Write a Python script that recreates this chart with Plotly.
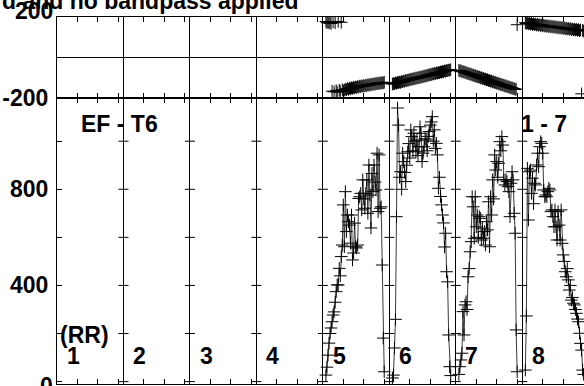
import plotly.graph_objects as go

# ---------------- data ----------------
if_numbers = [1, 2, 3, 4, 5, 6, 7, 8]
if_width = 65                      # 64 channels + 1 gap, in channel units
channels = list(range(3, 61))      # plotted channels in each IF

amp_if5 = [27, 60, 110, 160, 200, 223, 249, 277, 290, 330, 374, 402, 402, 471, 440, 520, 568, 735,
           561, 790, 624, 693, 665, 651, 576, 693, 506, 535, 659, 561, 556, 568, 762, 769, 783, 714,
           839, 760, 721, 783, 839, 700, 901, 776, 639, 866, 790, 901, 830, 797, 950, 707, 943, 721,
           727, 485, 181, 41]
amp_if6 = [15, 27, 140, 259, 686, 1138, 1067, 850, 873, 800, 950, 915, 870, 832, 900, 956, 990, 930,
           1047, 1019, 960, 1033, 1000, 956, 1005, 940, 977, 1060, 1033, 915, 950, 977, 1010, 1005,
           960, 1020, 1040, 1067, 1080, 1102, 1000, 1047, 970, 991, 943, 804, 850, 770, 735, 693,
           660, 560, 617, 457, 415, 194, 62, 25]
amp_if7 = [30, 62, 90, 118, 291, 194, 319, 332, 300, 436, 470, 540, 582, 769, 727, 596, 769, 644,
           693, 600, 686, 679, 589, 638, 596, 624, 568, 665, 631, 748, 561, 769, 693, 839, 760, 943,
           880, 915, 850, 908, 998, 960, 1019, 984, 839, 818, 840, 832, 811, 790, 686, 825, 873, 839,
           700, 617, 215, 41]
amp_if8 = [48, 273, 887, 672, 873, 880, 783, 846, 740, 825, 818, 901, 950, 894, 977, 998, 991, 950,
           797, 769, 776, 769, 790, 804, 797, 707, 714, 686, 644, 714, 644, 589, 707, 651, 589, 714,
           575, 527, 500, 457, 436, 470, 423, 381, 400, 339, 350, 326, 319, 300, 284, 260, 249, 201,
           159, 131, 48, 30]

ph_if5 = [178, 172, 176, 170, 174, 168, -165, 176, -168, 172, -162, -170, 178, -160, -166, 174, -158,
          -163, -160, -155, -158, -152, -156, -150, -153, -148, -151, -146, -149, -144, -147, -142,
          -145, -140, -143, -138, -141, -137, -139, -135, -138, -133, -136, -131, -134, -130, -132,
          -128, -131, -126, -129, -125, -128, -123, -126, -122, -125, -121]
ph_if6 = [-130, -127, -129, -124, -126, -122, -123, -120, -122, -117, -119, -115, -116, -112, -114,
          -110, -111, -107, -108, -105, -106, -102, -104, -100, -101, -98, -99, -95, -97, -93, -94,
          -90, -92, -88, -89, -85, -86, -82, -84, -80, -81, -77, -79, -75, -76, -73, -74, -70, -72,
          -68, -69, -65, -67, -63, -64, -61, -62, -59]
ph_if7 = [-62, -66, -64, -69, -68, -72, -71, -76, -75, -79, -78, -83, -81, -86, -85, -90, -88, -93,
          -92, -96, -95, -100, -98, -103, -102, -106, -105, -110, -108, -113, -112, -116, -115, -120,
          -118, -123, -122, -126, -125, -130, -128, -133, -132, -136, -135, -140, -138, -143, -142,
          -146, -145, -150, -148, -153, -152, -156, -155, 162]
ph_if8 = [172, 168, 171, 166, 170, 165, 168, 163, 167, 162, 165, 160, 164, 159, 162, 158, 161, 156,
          160, 155, 158, 154, 157, 152, 156, 151, 154, 150, 153, 149, 152, 147, 151, 146, 149, 145,
          148, 143, 147, 142, 145, 141, 144, 139, 143, 138, 141, 137, 140, 136, 139, 134, 138, 133,
          136, -178, 135, 131]

amp_series = {5: amp_if5, 6: amp_if6, 7: amp_if7, 8: amp_if8}
ph_series = {5: ph_if5, 6: ph_if6, 7: ph_if7, 8: ph_if8}

amp_ticks = [0, 200, 400, 600, 800, 1000]
amp_ticklabels = ["", "", "400", "", "800", ""]
ph_ticks = [-200, 0, 200]
ph_ticklabels = ["-200", "", ""]
chan_ticks = [0, 20, 40, 60]       # channel ticks inside each IF

title_text = "d and no bandpass applied"
baseline_text = "EF - T6"
source_text = "1 - 7"
pol_text = "(RR)"

# ---------------- figure ----------------
FONT = dict(family="Liberation Sans, Arial, sans-serif", size=23, color="black", weight="bold")
W, H = 584, 386
ML, MR, MT, MB = 57, 0, 17, 2
px_per_unit = 1.0226
x_max = (W - ML - MR) / px_per_unit
plot_h = H - MT - MB
split = 1 - 81.3 / plot_h

if_starts = [(k - 1) * if_width for k in if_numbers]

fig = go.Figure()
cross = dict(symbol="cross-thin", size=9, line=dict(width=1, color="black"), color="black")

for k, vals in amp_series.items():
    xs = [if_starts[k - 1] + c for c in channels]
    fig.add_trace(go.Scatter(x=xs, y=vals, mode="lines+markers", xaxis="x", yaxis="y",
                             line=dict(color="#3a3a3a", width=1), marker=cross,
                             showlegend=False, hoverinfo="skip"))
for k, vals in ph_series.items():
    xs = [if_starts[k - 1] + c for c in channels]
    fig.add_trace(go.Scatter(x=xs, y=vals, mode="markers", xaxis="x2", yaxis="y2",
                             marker=cross, showlegend=False, hoverinfo="skip"))

minor_vals = [s + t for s in if_starts for t in chan_ticks if t > 0]
xcommon = dict(range=[0, x_max], tickmode="array", tickvals=if_starts, showticklabels=False,
               ticks="inside", ticklen=5, tickcolor="black", showgrid=True, gridcolor="black",
               gridwidth=1, showline=True, linecolor="black", linewidth=1, mirror="ticks",
               zeroline=False, automargin=False,
               minor=dict(tickmode="array", tickvals=minor_vals, ticks="inside", ticklen=5,
                          tickcolor="black", showgrid=False))

fig.update_layout(
    width=W, height=H, margin=dict(l=ML, r=MR, t=MT, b=MB, autoexpand=False),
    paper_bgcolor="white", plot_bgcolor="white", font=FONT,
    xaxis=dict(anchor="y", domain=[0, 1], **xcommon),
    xaxis2=dict(anchor="y2", domain=[0, 1], matches="x", **xcommon),
    yaxis=dict(domain=[0, split], range=[-10, 1178.4], tickmode="array", tickvals=amp_ticks,
               ticktext=amp_ticklabels, ticks="inside", ticklen=5, tickcolor="black",
               showgrid=False, zeroline=False, showline=True, linecolor="black", linewidth=1,
               ticklabelstandoff=3, tickfont=FONT, automargin=False),
    yaxis2=dict(domain=[split, 1], range=[-200, 200], tickmode="array", tickvals=ph_ticks,
                ticktext=ph_ticklabels, ticks="inside", ticklen=5, tickcolor="black",
                showgrid=True, gridcolor="black", gridwidth=1, zeroline=False, showline=True,
                linecolor="black", linewidth=1, ticklabelstandoff=3, tickfont=FONT,
                automargin=False),
)

# y ticks crossing every IF divider in the amplitude panel
half = 5 / px_per_unit
shapes = []
for s in if_starts[1:]:
    for v in amp_ticks:
        shapes.append(dict(type="line", xref="x", yref="y", x0=s - half, x1=s + half, y0=v, y1=v,
                           line=dict(color="black", width=1)))
fig.update_layout(shapes=shapes)

ann = []
# edge tick labels drawn as text, offset like the original
ann.append(dict(xref="paper", yref="y2", x=0, y=ph_ticks[-1], text=str(ph_ticks[-1]),
                xanchor="right", yanchor="middle", xshift=-2, yshift=6, showarrow=False, font=FONT))
ann.append(dict(xref="paper", yref="y", x=0, y=amp_ticks[0], text=str(amp_ticks[0]),
                xanchor="right", yanchor="middle", xshift=-2, yshift=-4, showarrow=False, font=FONT))
# IF numbers
for k, s in zip(if_numbers, if_starts):
    ann.append(dict(xref="x", yref="y", x=s + 7.5, y=106, text=str(k), xanchor="left",
                    yanchor="middle", showarrow=False, font=FONT))
ann.append(dict(xref="x", yref="y", x=1.0, y=194, text=pol_text, xanchor="left",
                yanchor="middle", showarrow=False, font=FONT))
ann.append(dict(xref="x", yref="y", x=21.5, y=1073, text=baseline_text, xanchor="left",
                yanchor="middle", showarrow=False, font=FONT))
ann.append(dict(xref="x", yref="y", x=451.5, y=1073, text=source_text, xanchor="left",
                yanchor="middle", showarrow=False, font=FONT))
ann.append(dict(xref="paper", yref="paper", x=(300 - ML) / (W - ML - MR), y=(H - MB - 1) / plot_h,
                text=title_text, xanchor="right", yanchor="middle", showarrow=False, font=FONT))
fig.update_layout(annotations=ann)

fig.write_html("out.html", config={"displayModeBar": False},
               post_script="document.body.style.margin='0';document.body.style.overflow='hidden';")
